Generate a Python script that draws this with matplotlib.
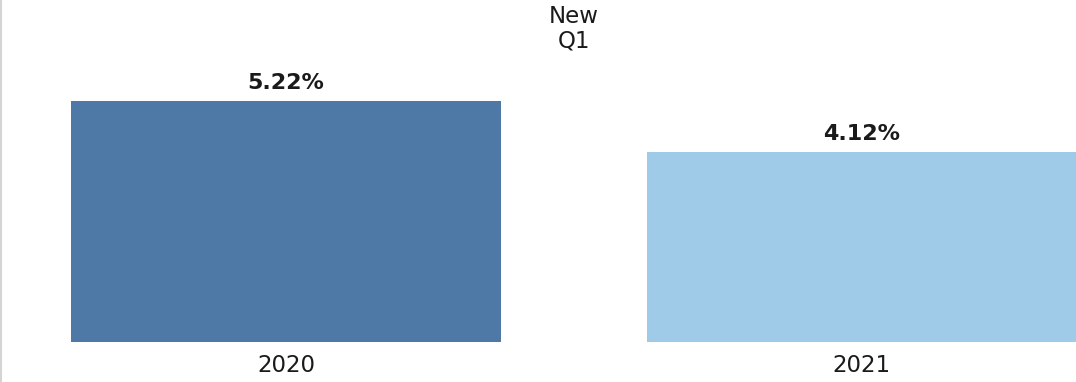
import matplotlib
matplotlib.use("Agg")
import matplotlib.pyplot as plt
from matplotlib.transforms import blended_transform_factory

categories = ["2020", "2021"]
values = [5.22, 4.12]
value_labels = ["5.22%", "4.12%"]
title_lines = ["New", "Q1"]
colors = ["#4e79a7", "#a0cbe8"]

W, H = 1076, 382
fig = plt.figure(figsize=(W / 100, H / 100), dpi=100)
fig.patch.set_facecolor("white")

base_px = 342
ax = fig.add_axes([0, (H - base_px) / H, 1, base_px / H])
px_per_unit = 46.15
ax.set_ylim(0, base_px / px_per_unit)
step = 575.5
ax.set_xlim(-286 / step, (W - 286) / step)

x = list(range(len(categories)))
bars = ax.bar(x, values, width=430 / step, color=colors, linewidth=0)

for xi, v, lab in zip(x, values, value_labels):
    ax.annotate(lab, (xi, v), xytext=(0, 5.5), textcoords="offset points",
                ha="center", va="bottom", fontsize=16, fontweight="bold",
                color="#1a1a1a")

ax.set_xticks(x)
ax.set_xticklabels(categories, fontsize=16.5, color="#1a1a1a")
ax.tick_params(axis="x", length=0, pad=9)
ax.set_yticks([])
for s in ax.spines.values():
    s.set_visible(False)

# facet title, centered between the two bars
tr = blended_transform_factory(ax.transData, fig.transFigure)
for i, (line, base_y) in enumerate(zip(title_lines, [23, 47])):
    fig.text(0.5, 1 - base_y / H, line, transform=tr, ha="center",
             va="baseline", fontsize=16.5, color="#1a1a1a")

# left light border line
fig.add_artist(plt.Line2D([0.5 / W, 0.5 / W], [0, 1], color="#d4d4d4", linewidth=1.5,
                          transform=fig.transFigure))

fig.savefig("out.png", dpi=100, facecolor="white")
